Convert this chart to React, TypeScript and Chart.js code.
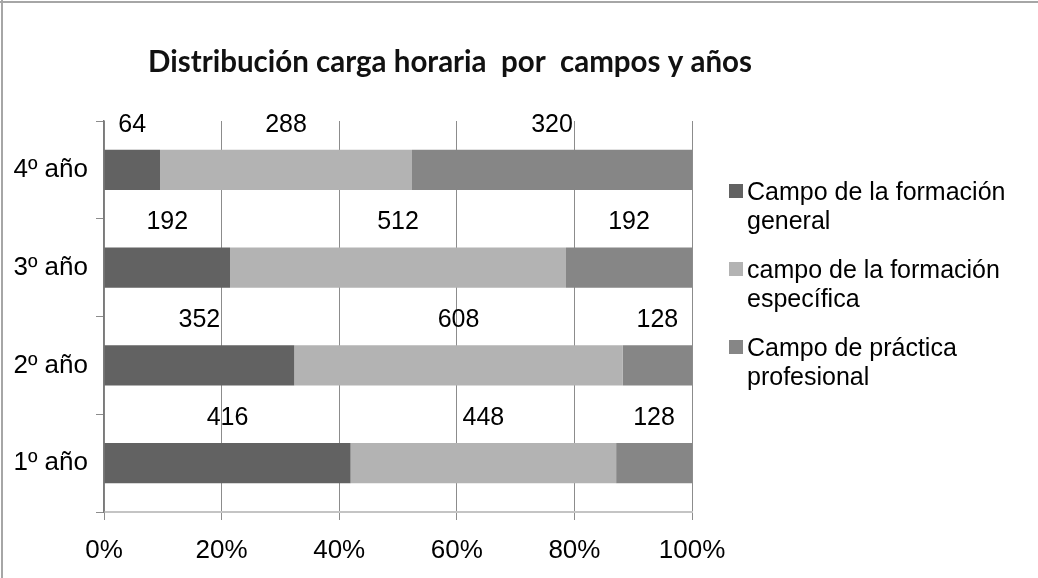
import React, { useEffect, useRef } from "react";
import { Chart, registerables } from "chart.js";

Chart.register(...registerables);

const title = "Distribución carga horaria  por  campos y años";
const categories = ["4º año", "3º año", "2º año", "1º año"];
const seriesNames = [
  ["Campo de la formación", "general"],
  ["campo de la formación", "específica"],
  ["Campo de práctica", "profesional"],
];
const generalValues = [64, 192, 352, 416];
const especificaValues = [288, 512, 608, 448];
const practicaValues = [320, 192, 128, 128];
const xTickValues = [0, 20, 40, 60, 80, 100];
const seriesColors = ["#626262", "#b3b3b3", "#868686"];

const FONT = "'Liberation Sans', Arial, sans-serif";

export default function App() {
  const ref = useRef<HTMLCanvasElement | null>(null);

  useEffect(() => {
    document.body.style.margin = "0";
    const canvas = ref.current;
    if (!canvas) return;
    const raw = [generalValues, especificaValues, practicaValues];
    const totals = categories.map((_, i) => raw.reduce((s, arr) => s + arr[i], 0));
    const datasets = raw.map((arr, k) => ({
      label: seriesNames[k].join(" "),
      data: arr.map((v, i) => (v / totals[i]) * 100),
      rawValues: arr,
      backgroundColor: seriesColors[k],
      borderWidth: 0,
      categoryPercentage: 1,
      barPercentage: 0.41,
    }));

    const decor = {
      id: "decor",
      afterDraw(chart: any) {
        const ctx = chart.ctx;
        ctx.save();
        // frame (top and left only)
        ctx.strokeStyle = "#a6a6a6";
        ctx.lineWidth = 2;
        ctx.beginPath();
        ctx.moveTo(0, 2);
        ctx.lineTo(1038, 2);
        ctx.moveTo(2, 0);
        ctx.lineTo(2, 578);
        ctx.stroke();
        // title
        ctx.fillStyle = "#111";
        ctx.font = "bold 29.5px Lato, 'Open Sans', sans-serif";
        ctx.textAlign = "center";
        ctx.textBaseline = "middle";
        ctx.fillText(title, 450, 62);
        // data labels
        ctx.font = `25px ${FONT}`;
        ctx.fillStyle = "#000";
        chart.data.datasets.forEach((ds: any, k: number) => {
          const meta = chart.getDatasetMeta(k);
          meta.data.forEach((bar: any, i: number) => {
            const cx = (bar.x + bar.base) / 2;
            const cy = bar.y - bar.height / 2 - 25;
            ctx.fillText(String(ds.rawValues[i]), cx, cy);
          });
        });
        // legend
        const lx = 729;
        const baseY = 200;
        ctx.textAlign = "left";
        ctx.textBaseline = "alphabetic";
        ctx.font = `25px ${FONT}`;
        seriesNames.forEach((lines, k) => {
          const y0 = baseY + k * 78;
          ctx.fillStyle = seriesColors[k];
          ctx.fillRect(lx, y0 - 16, 14, 14);
          ctx.fillStyle = "#000";
          lines.forEach((t, j) => ctx.fillText(t, lx + 18, y0 + j * 29));
        });
        ctx.restore();
      },
    };

    const chart = new Chart(canvas, {
      type: "bar",
      data: { labels: categories, datasets: datasets as any },
      plugins: [decor],
      options: {
        indexAxis: "y",
        responsive: false,
        animation: false,
        layout: { padding: { left: 4, top: 121, right: 346, bottom: 0 } },
        plugins: {
          legend: { display: false },
          tooltip: { enabled: false },
        },
        scales: {
          x: {
            stacked: true,
            min: 0,
            max: 100,
            afterFit: (s: any) => {
              s.height = 66;
            },
            afterBuildTicks: (s: any) => {
              s.ticks = xTickValues.map((v) => ({ value: v }));
            },
            ticks: {
              callback: (v: any) => v + "%",
              color: "#000",
              font: { family: FONT, size: 26 },
              padding: 15,
              maxRotation: 0,
            },
            grid: { color: "#8c8c8c", lineWidth: 1, tickLength: 8 },
            border: { color: "#c4c4c4", width: 2 },
          },
          y: {
            stacked: true,
            afterFit: (s: any) => {
              s.width = 100;
            },
            ticks: {
              color: "#000",
              font: { family: FONT, size: 26 },
              padding: 8,
            },
            grid: {
              offset: true,
              drawOnChartArea: false,
              color: "#8c8c8c",
              tickLength: 8,
            },
            border: { color: "#7a7a7a", width: 1.5 },
          },
        },
      } as any,
    });
    return () => chart.destroy();
  }, []);

  return <canvas ref={ref} width={1038} height={578} style={{ display: "block" }} />;
}
